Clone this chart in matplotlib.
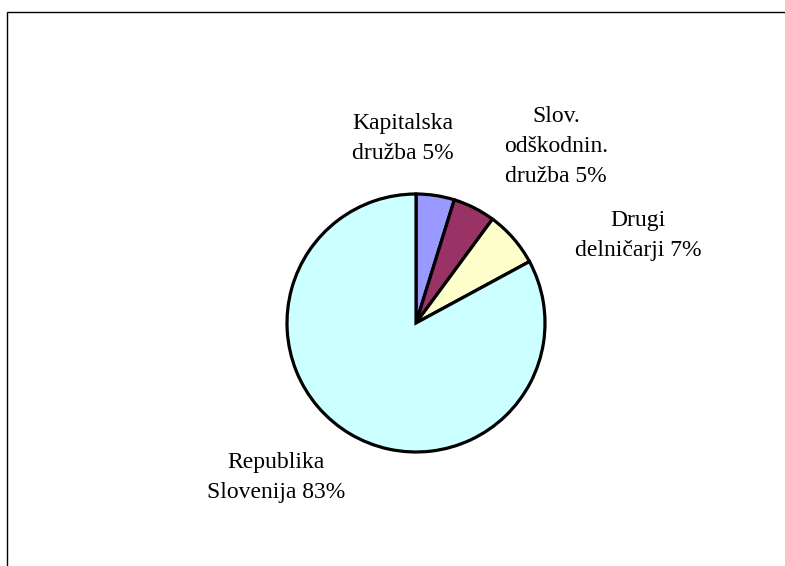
import matplotlib
matplotlib.use("Agg")
import matplotlib.pyplot as plt
from matplotlib.patches import Rectangle

plt.rcParams['font.family'] = ['Liberation Serif', 'DejaVu Serif']

categories = ["Kapitalska\ndružba", "Slov.\nodškodnin.\ndružba", "Drugi\ndelničarji", "Republika\nSlovenija"]
values = [4.8, 5.3, 7.0, 82.9]
pct_labels = ["5%", "5%", "7%", "83%"]
colors = ["#9999FF", "#993366", "#FFFFCC", "#CCFFFF"]

W, H = 785, 566
fig = plt.figure(figsize=(W / 100, H / 100), dpi=100)

cx, cy, R = 416, 323, 129
ax = fig.add_axes([(cx - R) / W, (H - cy - R) / H, 2 * R / W, 2 * R / H])
ax.pie(values, colors=colors, startangle=90, counterclock=False, radius=1,
       wedgeprops=dict(edgecolor='black', linewidth=2.3))
ax.set_xlim(-1.0, 1.0)
ax.set_ylim(-1.0, 1.0)
ax.set_aspect('equal')
ax.axis('off')

label_pos = [(-0.10, 1.43), (1.085, 1.37), (1.72, 0.68), (-1.085, -1.20)]
for cat, pct, (x, y) in zip(categories, pct_labels, label_pos):
    ax.text(x, y, f"{cat} {pct}", ha='center', va='center', fontsize=17,
            linespacing=1.55, clip_on=False)

fig.patches.append(Rectangle((6.5 / W, -0.1), 1.2, 1 - 11.5 / H + 0.1,
                             transform=fig.transFigure, fill=False,
                             edgecolor='black', linewidth=1))

fig.savefig("out.png", dpi=100, facecolor='white')
